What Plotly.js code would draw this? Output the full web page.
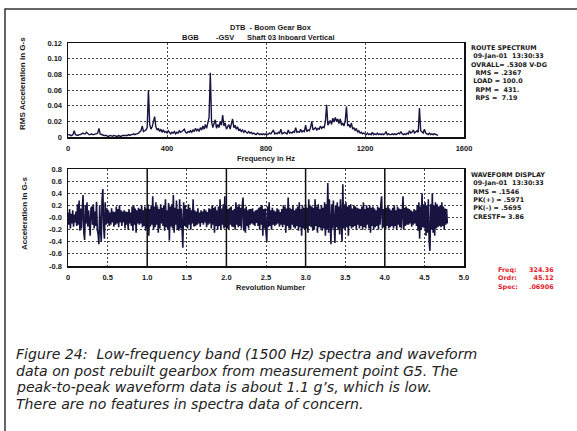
<!DOCTYPE html>
<html>
<head>
<meta charset="utf-8">
<script src="https://cdn.plot.ly/plotly-3.0.1.min.js"></script>
<style>html,body{margin:0;padding:0;background:#fff;}#chart{width:577px;height:431px;}</style>
</head>
<body>
<div id="chart"></div>
<script>
// ---- Spectrum data (RMS acceleration in G-s), 5 Hz resolution starting at 0 Hz ----
var specStartHz = 0;
var specStepHz = 5;
var spectrumValues = [
0.003,0.003,0.002,0.002,0.003,0.008,0.003,0.002,0.002,0.003,0.003,0.004,0.005,0.004,0.004,0.006,0.004,0.003,0.003,0.004,
0.003,0.003,0.004,0.004,0.005,0.011,0.004,0.003,0.002,0.002,0.002,0.002,0.001,0.001,0.002,0.001,0.001,0.002,0.001,0.001,
0.001,0.002,0.001,0.001,0.002,0.002,0.002,0.002,0.002,0.003,0.002,0.003,0.003,0.004,0.003,0.004,0.004,0.005,0.006,0.008,
0.014,0.007,0.008,0.009,0.012,0.060,0.016,0.010,0.013,0.018,0.026,0.013,0.009,0.011,0.007,0.010,0.006,0.009,0.006,0.007,
0.005,0.008,0.005,0.004,0.006,0.005,0.007,0.004,0.006,0.005,0.008,0.006,0.007,0.009,0.010,0.006,0.005,0.007,0.006,0.008,
0.006,0.009,0.007,0.011,0.008,0.010,0.007,0.012,0.009,0.014,0.010,0.016,0.011,0.018,0.025,0.082,0.020,0.012,0.018,0.022,
0.011,0.016,0.012,0.020,0.015,0.028,0.014,0.018,0.010,0.013,0.016,0.010,0.017,0.023,0.012,0.015,0.010,0.013,0.008,0.010,
0.007,0.009,0.006,0.008,0.006,0.005,0.007,0.005,0.006,0.004,0.005,0.004,0.003,0.005,0.004,0.003,0.004,0.003,0.004,0.003,
0.004,0.003,0.004,0.005,0.004,0.006,0.009,0.004,0.005,0.004,0.006,0.005,0.010,0.004,0.005,0.006,0.005,0.004,0.009,0.005,
0.006,0.005,0.007,0.006,0.012,0.006,0.007,0.006,0.010,0.006,0.008,0.007,0.015,0.007,0.009,0.008,0.012,0.020,0.009,0.010,
0.012,0.009,0.011,0.010,0.014,0.011,0.013,0.012,0.020,0.041,0.015,0.018,0.021,0.016,0.024,0.019,0.025,0.020,0.023,0.017,
0.023,0.015,0.018,0.014,0.020,0.039,0.014,0.016,0.012,0.018,0.010,0.012,0.008,0.011,0.006,0.008,0.005,0.006,0.004,0.005,
0.004,0.003,0.005,0.003,0.004,0.003,0.006,0.003,0.004,0.003,0.005,0.003,0.004,0.003,0.004,0.003,0.004,0.007,0.003,0.004,
0.003,0.003,0.004,0.003,0.004,0.003,0.004,0.005,0.004,0.007,0.004,0.003,0.004,0.003,0.005,0.004,0.008,0.005,0.006,0.009,
0.005,0.007,0.008,0.006,0.037,0.008,0.006,0.005,0.010,0.005,0.004,0.003,0.005,0.003,0.004,0.003,0.004,0.003,0.003,0.002
];

// ---- Waveform data (acceleration in G-s), 0.01 revolution per sample ----
var waveStartRev = 0;
var waveStepRev = 0.01;
var waveformValues = [
0.08,-0.12,0.14,-0.18,0.06,-0.10,0.12,-0.15,0.05,-0.08,
0.10,-0.14,0.22,-0.12,0.28,-0.22,0.15,-0.18,0.12,0.37,
-0.25,-0.37,0.20,-0.10,0.25,-0.15,0.12,-0.22,-0.30,0.15,
0.18,-0.12,0.22,-0.18,0.10,-0.14,0.26,-0.20,-0.28,-0.44,
0.20,-0.18,-0.40,0.30,0.47,-0.16,-0.35,0.25,-0.12,0.15,
-0.10,0.12,-0.14,0.08,-0.12,0.15,-0.08,0.10,-0.15,0.09,
-0.12,0.18,-0.10,0.14,-0.16,0.20,-0.08,0.12,-0.14,0.10,
-0.08,0.12,-0.18,0.10,-0.12,0.09,-0.20,0.14,-0.10,0.08,
-0.14,0.18,-0.22,0.20,-0.12,0.15,-0.25,0.12,-0.10,0.16,
-0.12,0.14,-0.10,0.20,-0.16,0.12,-0.14,0.18,-0.22,0.15,
-0.18,0.22,-0.30,0.14,-0.15,0.20,-0.12,0.35,-0.20,0.18,
-0.16,0.25,-0.12,0.18,-0.25,0.14,-0.18,0.22,-0.10,0.16,
-0.14,0.20,-0.22,0.30,-0.16,0.12,-0.20,0.24,-0.38,0.18,
-0.15,0.22,-0.18,0.37,-0.25,0.16,-0.12,0.28,-0.20,0.14,
-0.22,0.30,-0.18,0.15,-0.30,-0.50,0.25,-0.14,0.20,-0.16,
0.14,-0.18,0.22,-0.12,0.16,-0.20,0.12,-0.10,0.30,-0.15,
0.12,-0.14,0.10,-0.12,0.15,-0.10,0.08,-0.15,0.12,-0.09,
0.10,-0.12,0.14,-0.08,0.12,-0.16,0.09,-0.12,0.15,-0.10,
0.14,-0.18,0.20,-0.12,0.16,-0.25,0.18,-0.14,0.12,-0.20,
0.18,-0.14,0.30,-0.20,0.15,-0.12,0.22,-0.18,0.35,-0.16,
0.20,-0.18,0.14,-0.20,0.16,-0.12,0.18,-0.15,0.12,-0.16,
0.14,-0.20,0.25,-0.12,0.18,-0.16,0.22,-0.14,0.16,-0.18,
0.20,0.33,-0.22,0.15,-0.25,0.18,-0.14,0.12,-0.18,0.14,
-0.12,0.14,-0.10,0.15,-0.12,0.10,-0.14,0.12,-0.09,0.13,
-0.14,0.16,-0.20,0.18,-0.12,0.20,-0.30,0.14,-0.18,0.15,
-0.25,-0.40,0.18,-0.16,0.25,-0.14,0.12,-0.20,0.16,-0.12,
0.12,-0.14,0.10,-0.12,0.15,-0.10,0.13,-0.15,0.09,-0.12,
0.14,-0.16,0.20,-0.12,0.18,-0.25,0.15,-0.14,0.33,-0.18,
0.16,-0.20,0.14,-0.12,0.20,-0.16,0.12,-0.18,0.15,-0.14,
0.18,-0.22,0.25,-0.16,0.14,-0.30,0.20,-0.18,0.16,-0.20,
0.22,-0.18,0.16,-0.25,0.30,-0.14,0.20,-0.16,0.18,-0.22,
0.16,-0.20,0.30,-0.14,0.18,-0.25,0.22,-0.16,0.14,-0.18,
0.20,-0.22,0.16,-0.18,0.25,-0.30,0.22,-0.20,0.57,-0.25,
0.30,-0.20,-0.44,0.22,-0.18,0.28,-0.26,-0.42,0.20,-0.16,
0.25,-0.20,0.18,-0.28,0.30,-0.22,-0.40,0.55,-0.18,0.22,
-0.20,0.25,-0.16,0.18,-0.30,0.20,-0.14,0.22,-0.18,0.15,
-0.16,0.20,-0.14,0.18,-0.20,0.16,-0.12,0.15,-0.18,0.14,
-0.14,0.18,-0.20,0.25,-0.16,0.14,-0.18,0.20,-0.12,0.16,
-0.18,0.20,-0.25,0.16,-0.14,0.18,-0.20,0.15,-0.16,0.12,
-0.14,0.18,-0.20,0.16,-0.12,0.22,0.35,-0.18,0.14,-0.16,
0.18,-0.20,0.16,-0.14,0.20,-0.18,0.15,-0.16,0.12,-0.14,
0.16,-0.18,0.20,-0.14,0.12,-0.20,0.18,-0.12,0.15,-0.16,
0.14,-0.18,0.22,0.35,-0.20,0.16,-0.14,0.18,-0.12,0.15,
-0.12,0.14,-0.10,0.12,-0.15,0.10,-0.12,0.14,-0.10,0.12,
-0.14,0.20,-0.22,0.25,-0.35,0.18,-0.20,0.40,-0.16,0.22,
-0.18,0.25,-0.30,0.20,-0.25,0.30,-0.40,-0.55,0.22,-0.20,
0.40,-0.25,0.20,-0.30,0.25,-0.18,0.22,-0.16,0.18,-0.14,
0.20,-0.16,0.25,-0.14,0.18,-0.20,0.15,-0.12,0.14,-0.10
];

// ---- Tick labels ----
var specXTicks = [0, 400, 800, 1200, 1600];
var specXLabels = ["0", "400", "800", "1200", "1600"];
var specYTicks = [0, 0.02, 0.04, 0.06, 0.08, 0.10, 0.12];
var specYLabels = ["0", "0.02", "0.04", "0.06", "0.08", "0.10", "0.12"];
var waveXTicks = [0, 0.5, 1.0, 1.5, 2.0, 2.5, 3.0, 3.5, 4.0, 4.5, 5.0];
var waveXLabels = ["0", "0.5", "1.0", "1.5", "2.0", "2.5", "3.0", "3.5", "4.0", "4.5", "5.0"];
var waveYTicks = [-0.8, -0.6, -0.4, -0.2, 0, 0.2, 0.4, 0.6, 0.8];
var waveYLabels = ["-0.8", "-0.6", "-0.4", "-0.2", "-0.0", "0.2", "0.4", "0.6", "0.8"];
var revMarkers = [1, 2, 3, 4];

// ---- Text blocks ----
var titleLine1 = "DTB  - Boom Gear Box";
var routeBlock = ["ROUTE SPECTRUM", "\u00a009-Jan-01  13:30:33", "OVRALL= .5308 V-DG", "\u00a0\u00a0RMS = .2367", "\u00a0LOAD = 100.0", "\u00a0\u00a0RPM =  431.", "\u00a0\u00a0RPS =  7.19"];
var waveBlock = ["WAVEFORM DISPLAY", "\u00a009-Jan-01  13:30:33", "\u00a0RMS = .1546", "\u00a0PK(+) = .5971", "\u00a0PK(-) = .5695", "\u00a0CRESTF= 3.86"];
var cursorLabels = ["Freq:", "Ordr:", "Spec:"];
var cursorValues = ["324.36", "45.12", ".06906"];
var caption = [
"Figure 24:  Low-frequency band (1500 Hz) spectra and waveform",
"data on post rebuilt gearbox from measurement point G5. The",
"peak-to-peak waveform data is about 1.1 g\u2019s, which is low.",
"There are no features in spectra data of concern."
];

// ---- Layout helpers ----
var W = 577, H = 431;
function px(x) { return x / W; }
function py(y) { return 1 - y / H; }
var FONT = "Liberation Sans, Arial, sans-serif";
var BLOCKFONT = "DejaVu Sans, Liberation Sans, sans-serif";
var ink = "#1a1a1a";
var lineCol = "#17153f";

var traces = [
  { type: "scatter", mode: "lines", x0: specStartHz, dx: specStepHz, y: spectrumValues,
    xaxis: "x", yaxis: "y", line: { color: lineCol, width: 1.4 }, hoverinfo: "skip" },
  { type: "scatter", mode: "lines", x0: waveStartRev, dx: waveStepRev, y: waveformValues,
    xaxis: "x2", yaxis: "y2", line: { color: lineCol, width: 1.6 }, hoverinfo: "skip" }
];

var tickFont = { family: FONT, size: 7.5, color: ink, weight: "bold" };
var gridBase = { showgrid: true, gridcolor: "#444", gridwidth: 1, griddash: "2px,2px",
  showline: true, linecolor: "#111", linewidth: 1.5, mirror: true, zeroline: false,
  ticks: "", tickfont: tickFont, fixedrange: true };

function ax(extra) { var o = {}; for (var k in gridBase) o[k] = gridBase[k]; for (var j in extra) o[j] = extra[j]; return o; }

var xDom = [px(68), px(464)];
var layout = {
  width: W, height: H, autosize: false,
  margin: { l: 0, r: 0, t: 0, b: 0, pad: 0 },
  paper_bgcolor: "#fff", plot_bgcolor: "#fff",
  showlegend: false,
  xaxis: ax({ domain: xDom, range: [0, 1600], tickvals: specXTicks, ticktext: specXLabels, anchor: "y", ticklabelstandoff: 3 }),
  yaxis: ax({ domain: [py(137), py(43)], range: [0, 0.12], tickvals: specYTicks, ticktext: specYLabels, anchor: "x", ticklabelstandoff: 3 }),
  xaxis2: ax({ domain: xDom, range: [0, 5], tickvals: waveXTicks, ticktext: waveXLabels, anchor: "y2", ticklabelstandoff: 3 }),
  yaxis2: ax({ domain: [py(266), py(169)], range: [-0.8, 0.8], tickvals: waveYTicks, ticktext: waveYLabels, anchor: "x2", ticklabelstandoff: 3 }),
  shapes: [],
  annotations: []
};

// solid revolution markers on the waveform
revMarkers.forEach(function (r) {
  layout.shapes.push({ type: "line", xref: "x2", yref: "y2", x0: r, x1: r, y0: -0.8, y1: 0.8,
    line: { color: "#111", width: 1.5 }, layer: "above" });
});
// outer frame of the figure (cropped at right and bottom)
layout.shapes.push({ type: "rect", xref: "paper", yref: "paper", x0: px(5), x1: px(590), y0: py(445), y1: py(9),
  line: { color: "#333", width: 1.5 }, fillcolor: "rgba(0,0,0,0)" });

function txt(s, x, y, opts) {
  opts = opts || {};
  layout.annotations.push({
    text: s, xref: "paper", yref: "paper", x: px(x), y: py(y), showarrow: false,
    xanchor: opts.xanchor || "left", yanchor: opts.yanchor || "middle",
    align: opts.align || "left", borderpad: 0,
    textangle: opts.angle || 0,
    font: { family: opts.family || FONT, size: opts.size || 7.5, color: opts.color || ink,
      weight: opts.weight || "bold", style: opts.style || "normal" }
  });
}

// titles
txt(titleLine1, 271, 28, { xanchor: "center" });
txt("BGB", 190, 38, { xanchor: "center" });
txt("-GSV", 225, 38, { xanchor: "center" });
txt("Shaft 03 Inboard Vertical", 291, 38, { xanchor: "center" });
// axis titles
txt("Frequency in Hz", 266, 158, { xanchor: "center" });
txt("Revolution Number", 270, 287, { xanchor: "center" });
txt("RMS Acceleration in G-s", 22, 84, { xanchor: "center", angle: -90, size: 8 });
txt("Acceleration in G-s", 25, 214, { xanchor: "center", angle: -90, size: 8 });

// route spectrum block (one multi-line text)
txt(routeBlock.join("<br>"), 470, 43, { yanchor: "top", family: BLOCKFONT, size: 6.4 });
// waveform block
txt(waveBlock.join("<br>"), 470, 170, { yanchor: "top", family: BLOCKFONT, size: 6.4 });
// cursor readout (red)
txt(cursorLabels.join("<br>"), 497, 265, { yanchor: "top", family: BLOCKFONT, size: 6.4, color: "#e3202b" });
txt(cursorValues.join("<br>"), 555, 265, { yanchor: "top", xanchor: "right", align: "right", family: BLOCKFONT, size: 6.4, color: "#e3202b" });
// caption
var capY = [354, 370.6, 387.2, 403.8];
caption.forEach(function (s, i) {
  txt(s, 15, capY[i], { family: "DejaVu Sans, sans-serif", size: 14.1, color: "#222", weight: "normal", style: "italic" });
});

Plotly.newPlot("chart", traces, layout, { displayModeBar: false, staticPlot: true });
</script>
</body>
</html>
